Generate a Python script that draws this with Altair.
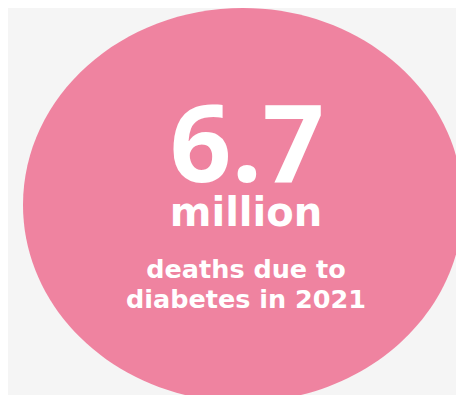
import altair as alt
import pandas as pd

# Infographic content
stat_value = ["6.7"]
stat_unit = ["million"]
caption_lines = ["deaths due to", "diabetes in 2021"]

PINK = "#ef83a0"
BG = "#f5f5f5"

W, H = 448, 387  # whole chart (page margin 8px)

# ellipse as custom symbol path (unit box, y radius 0.895)
ry = 0.895
k = 0.5523
ellipse_path = (
    f"M1,0 C1,{k*ry:.4f} {k:.4f},{ry} 0,{ry} "
    f"C{-k:.4f},{ry} -1,{k*ry:.4f} -1,0 "
    f"C-1,{-k*ry:.4f} {-k:.4f},{-ry} 0,{-ry} "
    f"C{k:.4f},{-ry} 1,{-k*ry:.4f} 1,0 Z"
)

base = alt.Chart(pd.DataFrame({"value": stat_value, "unit": stat_unit}))

cx = 235  # chart coordinates (screen minus 8px margin)

ellipse = base.mark_point(
    shape=ellipse_path, size=440 * 440, filled=True, opacity=1, color=PINK, strokeWidth=0
).encode(x=alt.value(cx), y=alt.value(196))

number = base.mark_text(
    font="Open Sans", fontWeight="bold", fontSize=108, color="white",
    align="center", baseline="alphabetic"
).encode(text="value:N", x=alt.value(239), y=alt.value(173))

unit = base.mark_text(
    font="DejaVu Sans", fontWeight="bold", fontSize=40, color="white",
    align="center", baseline="alphabetic"
).encode(text="unit:N", x=alt.value(238), y=alt.value(217))

text_style = dict(font="DejaVu Sans", fontWeight="bold", fontSize=25.5, color="white",
                  align="center", baseline="alphabetic")
cap_layers = []
for i, line in enumerate(caption_lines):
    df = pd.DataFrame({"line": [line]})
    cap_layers.append(
        alt.Chart(df).mark_text(**text_style).encode(
            text="line:N", x=alt.value(238), y=alt.value(269 + 30 * i)
        )
    )

chart = alt.layer(ellipse, number, unit, *cap_layers).properties(
    width=W, height=H,
    autosize=alt.AutoSizeParams(type="fit", contains="padding"),
    padding=0,
    background=BG,
).configure_view(stroke=None)

chart.save("out.html", embed_options={"renderer": "svg", "actions": False})
